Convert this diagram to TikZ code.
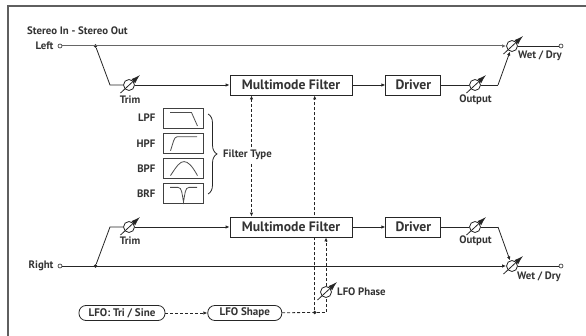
\documentclass[tikz,border=0pt]{standalone}
\usepackage{fontspec}
\setmainfont{PT Sans}
\usetikzlibrary{arrows.meta,positioning,backgrounds,decorations.pathreplacing}
\definecolor{inkgray}{HTML}{333333}
\definecolor{framegray}{HTML}{5F5F5F}

\begin{document}
\begin{tikzpicture}[
    x=1pt, y=-1pt,
    every node/.style={text=inkgray},
    block/.style={rectangle, draw=black!85, line width=0.8pt, fill=white, minimum height=20pt, inner sep=0pt, font=\bfseries\fontsize{13.7}{15}\selectfont},
    pill/.style={rectangle, rounded corners=7pt, draw=black!85, line width=0.8pt, fill=white, minimum height=15pt, inner sep=0pt, font=\bfseries\fontsize{11}{12}\selectfont},
    icon/.style={rectangle, draw=black!75, line width=0.8pt, minimum width=40pt, minimum height=20pt, inner sep=0pt},
    lbl/.style={inner sep=0pt, font=\bfseries\fontsize{10.8}{12}\selectfont},
    knob/.style={circle, draw=black!85, line width=0.8pt, fill=white, minimum size=11pt, inner sep=0pt},
    term/.style={circle, draw=black!85, line width=0.6pt, fill=white, minimum size=4pt, inner sep=0pt},
    joint/.style={circle, fill=black!85, minimum size=3.6pt, inner sep=0pt},
    arr/.style={-{Latex[length=4pt,width=3.4pt]}, line width=0.8pt, draw=black!85},
    sig/.style={line width=0.8pt, draw=black!85},
    ctl/.style={-{Latex[length=4pt,width=3.4pt]}, densely dashed, line width=0.8pt, draw=black!85},
    knobarr/.style={-{Latex[length=9pt,width=5.5pt]}, line width=0.8pt, draw=black!85},
    curve/.style={line width=0.8pt, draw=black!70}
]
\useasboundingbox (0,0) rectangle (586,336);
\draw[framegray, line width=2pt] (8,336) -- (8,6) -- (586,6);

% left channel
\node[lbl, anchor=west] (title) at (27,30.5) {Stereo In - Stereo Out};
\node[term] (inL) at (60,46) {};
\node[lbl, left=4pt of inL] (inLtxt) {Left};
\node[joint] (dotL) at (95.5,46) {};
\coordinate (bendL) at (110,85);
\node[knob] (trimL) at (129,85) {};
\node[lbl] (trimLtxt) at (130,100) {Trim};
\node[block, minimum width=122pt] (mfU) at (291,85) {Multimode Filter};
\node[block, minimum width=55pt, right=33pt of mfU] (drvU) {Driver};
\node[knob] (outL) at (475,85) {};
\node[lbl] (outLtxt) at (475.5,100) {Output};
\coordinate (kinkL) at (498,85);
\node[knob] (wetL) at (512,46) {};
\node[lbl] (wetLtxt) at (540,55.5) {Wet / Dry};
\node[term] (outTermL) at (561,46) {};

% right channel
\node[term] (inR) at (60,266) {};
\node[lbl, left=4pt of inR] (inRtxt) {Right};
\node[joint] (dotR) at (95.5,266) {};
\coordinate (bendR) at (110,227);
\node[knob] (trimR) at (129,227) {};
\node[lbl] (trimRtxt) at (130,241) {Trim};
\node[block, minimum width=122pt] (mfL) at (291,227) {Multimode Filter};
\node[block, minimum width=55pt, right=33pt of mfL] (drvL) {Driver};
\node[knob] (outR) at (475,227) {};
\node[lbl] (outRtxt) at (475.5,241) {Output};
\coordinate (kinkR) at (498,227);
\node[knob] (wetR) at (512,266) {};
\node[lbl] (wetRtxt) at (539,276.5) {Wet / Dry};
\node[term] (outTermR) at (561,266) {};

% filter type icons
\node[icon] (lpf) at (183,118) {};
\node[icon, below=4.5pt of lpf] (hpf) {};
\node[icon, below=4.5pt of hpf] (bpf) {};
\node[icon, below=4.5pt of bpf] (brf) {};
\foreach \f/\t in {lpf/LPF, hpf/HPF, bpf/BPF, brf/BRF}
    \node[lbl, anchor=east] (\f txt) at ([xshift=-7pt]\f.west) {\t};
\draw[curve] ([shift={(-13,-5.5)}]lpf.center) -- ([shift={(8.5,-5.5)}]lpf.center) -- ([shift={(14.5,8)}]lpf.center);
\draw[curve] ([shift={(-12.5,7.5)}]hpf.center) .. controls ([shift={(-10,0)}]hpf.center) and ([shift={(-9,-6.5)}]hpf.center) .. ([shift={(-6,-6.5)}]hpf.center) -- ([shift={(14,-6.5)}]hpf.center);
\draw[curve] ([shift={(-12.5,7)}]bpf.center) .. controls ([shift={(-6,-3)}]bpf.center) and ([shift={(-3,-7)}]bpf.center) .. ([shift={(1,-7)}]bpf.center) .. controls ([shift={(5,-7)}]bpf.center) and ([shift={(9,-3)}]bpf.center) .. ([shift={(14.5,7)}]bpf.center);
\draw[curve] ([shift={(-13,-6.5)}]brf.center) -- ([shift={(-5,-6.5)}]brf.center) .. controls ([shift={(-1,-6.5)}]brf.center) and ([shift={(-1,0)}]brf.center) .. ([shift={(0.5,8)}]brf.center) .. controls ([shift={(2,0)}]brf.center) and ([shift={(2,-6.5)}]brf.center) .. ([shift={(6,-6.5)}]brf.center) -- ([shift={(14,-6.5)}]brf.center);
\draw[sig, decorate, decoration={brace, amplitude=9pt, mirror}] (208,194) -- (208,114) coordinate[midway] (braceMid);
\node[lbl, anchor=west, fill=white, inner ysep=2pt] (typetxt) at (223,155) {Filter Type};

% LFO
\node[pill, minimum width=86pt] (lfo) at (122,313) {LFO: Tri / Sine};
\node[pill, minimum width=74pt, right=42pt of lfo] (shape) {LFO Shape};
\node[joint] (dotLFO) at (314.7,312.5) {};
\node[knob] (phase) at (326,292) {};
\node[lbl, anchor=west] (phasetxt) at (337,292) {LFO Phase};

% audio path
\draw[arr, draw=black!60, line width=1pt] (inL) -- (wetL);
\draw[sig] (dotL) -- (bendL) -- (trimL);
\draw[arr] (trimL) -- (mfU);
\draw[arr] (mfU) -- (drvU);
\draw[sig] (drvU) -- (outL);
\draw[sig] (outL) -- (kinkL);
\draw[arr] (kinkL) -- (wetL);
\draw[sig] (wetL) -- (outTermL);
\draw[arr] (inR) -- (wetR);
\draw[sig] (dotR) -- (bendR) -- (trimR);
\draw[arr] (trimR) -- (mfL);
\draw[arr] (mfL) -- (drvL);
\draw[sig] (drvL) -- (outR);
\draw[sig] (outR) -- (kinkR);
\draw[arr] (kinkR) -- (wetR);
\draw[sig] (wetR) -- (outTermR);

% modulation
\coordinate (typeX) at (251.5,155);
\begin{scope}[on background layer]
\draw[ctl, {Latex[length=4pt,width=3.4pt]}-{Latex[length=4pt,width=3.4pt]}] (typeX |- mfU.south) -- (typeX |- mfL.north);
\draw[ctl] (dotLFO) -- (dotLFO |- mfU.south);
\end{scope}
\draw[ctl] (lfo) -- (shape);
\draw[ctl, -] (shape) -- (dotLFO);
\draw[ctl, -] (dotLFO) -| (phase);
\draw[ctl] (phase) -- (phase |- mfL.south);

% knob pointers
\foreach \k in {trimL, trimR, outL, outR, wetL, wetR, phase}
    \draw[knobarr] ([shift={(-8.5,8)}]\k.center) -- ([shift={(11,-10)}]\k.center);
\end{tikzpicture}
\end{document}
